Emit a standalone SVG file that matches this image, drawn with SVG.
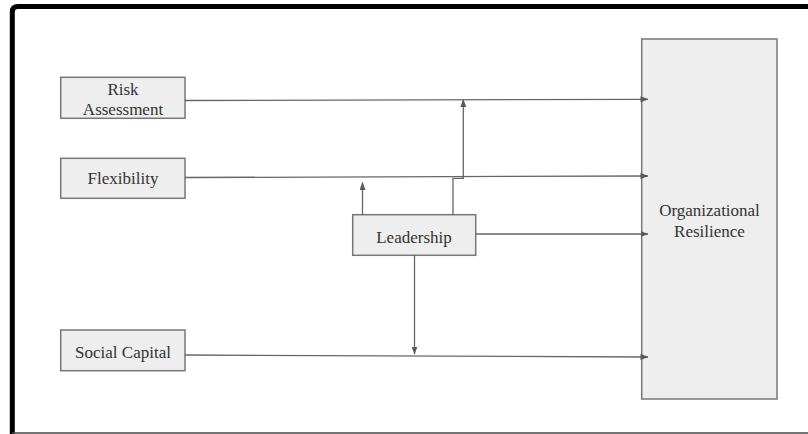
<svg xmlns="http://www.w3.org/2000/svg" width="808" height="434" viewBox="0 0 808 434">
<style>
.box{fill:#eeeeee;stroke:#777777;stroke-width:1.5}
.lbl{font-family:'Liberation Serif','DejaVu Serif',serif;font-size:17px;fill:#333333;text-anchor:middle}
.ln{fill:none;stroke:#666666;stroke-width:1.3}
</style>
<defs>
<marker id="ah" markerWidth="8" markerHeight="6" refX="7.5" refY="3" orient="auto" markerUnits="userSpaceOnUse">
<path d="M0,0 L8,3 L0,6 Z" fill="#595959"/>
</marker>
</defs>
<rect x="0" y="0" width="808" height="434" fill="#ffffff"/>
<path d="M12.3,434 V12 Q12.3,6.5 18,6.5 H808" fill="none" stroke="#000000" stroke-width="5"/>
<line x1="12" y1="433" x2="808" y2="433" stroke="#444444" stroke-width="1.3"/>
<g id="risk-assessment">
<rect class="box" x="60.7" y="77.3" width="124.3" height="41"/>
<text class="lbl" font-family="Liberation Serif, serif" x="123" y="94.5">Risk</text>
<text class="lbl" font-family="Liberation Serif, serif" x="123" y="115">Assessment</text>
</g>
<g id="flexibility">
<rect class="box" x="60.7" y="158.3" width="124.3" height="40"/>
<text class="lbl" font-family="Liberation Serif, serif" x="123" y="184">Flexibility</text>
</g>
<g id="social-capital">
<rect class="box" x="60.7" y="330" width="124.3" height="40.7"/>
<text class="lbl" font-family="Liberation Serif, serif" x="123" y="357.5">Social Capital</text>
</g>
<g id="leadership">
<rect class="box" x="352.7" y="214.7" width="123" height="40.6"/>
<text class="lbl" font-family="Liberation Serif, serif" x="414" y="242.5">Leadership</text>
</g>
<g id="organizational-resilience">
<rect class="box" x="641.7" y="39" width="135.3" height="360"/>
<text class="lbl" font-family="Liberation Serif, serif" x="709.5" y="215.5">Organizational</text>
<text class="lbl" font-family="Liberation Serif, serif" x="709.5" y="236.5">Resilience</text>
</g>
<g id="connectors">
<path class="ln" d="M185,100.5 L648,99.3" marker-end="url(#ah)"/>
<path class="ln" d="M185,177.5 L648,176" marker-end="url(#ah)"/>
<path class="ln" d="M185,355 L648,357" marker-end="url(#ah)"/>
<path class="ln" d="M475.7,234 L648,234" marker-end="url(#ah)"/>
<path class="ln" d="M362.5,214.7 V182.5" marker-end="url(#ah)"/>
<path class="ln" d="M453,214.7 V178.3 H463.3 V99.5" marker-end="url(#ah)"/>
<path class="ln" d="M414.5,255.3 V354" marker-end="url(#ah)"/>
</g>
</svg>
